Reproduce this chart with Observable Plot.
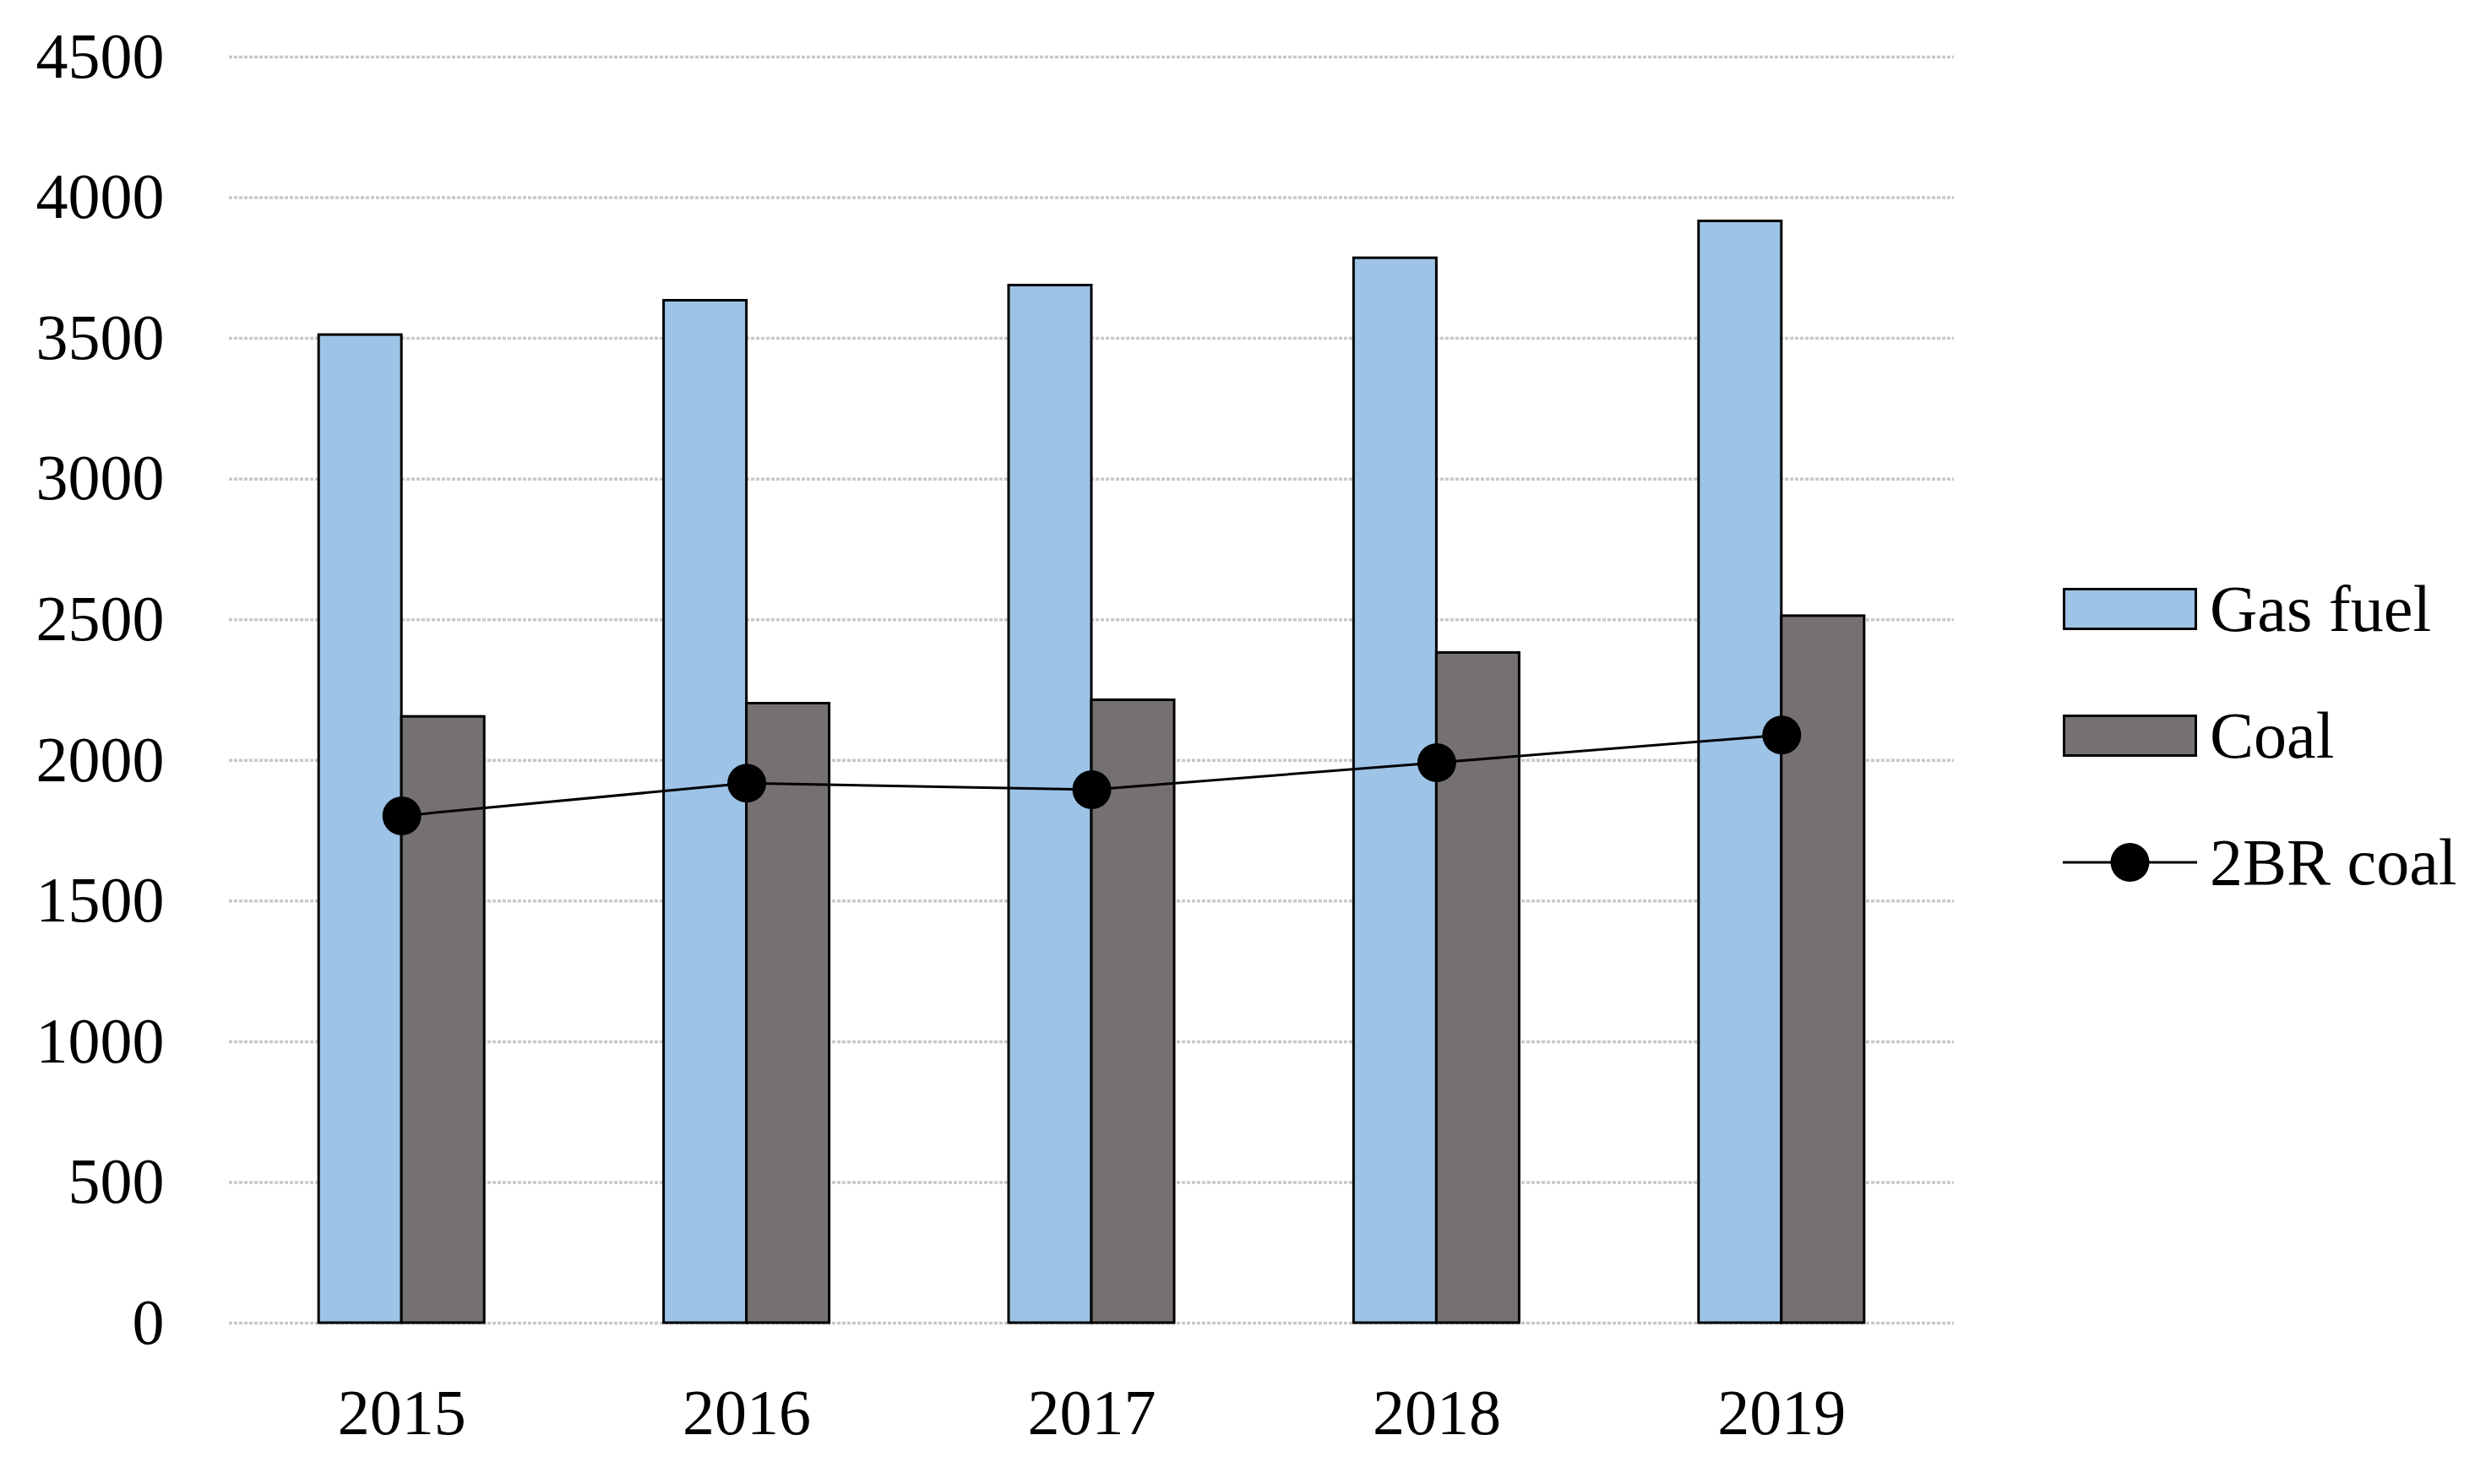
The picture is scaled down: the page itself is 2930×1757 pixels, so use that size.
<!DOCTYPE html>
<html><head><meta charset="utf-8">
<script src="https://cdn.jsdelivr.net/npm/d3@7"></script>
<script src="https://cdn.jsdelivr.net/npm/@observablehq/plot@0.6"></script>
<style>
body{margin:0;background:#fff;}
#wrap{position:relative;width:2930px;height:1757px;font-family:"Liberation Serif",serif;color:#000;}
#chart{position:absolute;left:0;top:0;}
#legend{position:absolute;left:2442px;top:681px;}
.row{display:flex;align-items:center;height:80px;margin-bottom:70px;font-size:78px;white-space:nowrap;}
.sw{width:159px;height:50px;box-sizing:border-box;border:3px solid #000;margin-right:15px;flex:none;}
.row svg{margin-right:15px;flex:none;}
</style></head><body>
<div id="wrap"><div id="chart"></div><div id="legend"></div></div>
<script>
const years = [2015, 2016, 2017, 2018, 2019];
const gasFuel = [3512, 3634, 3688, 3785, 3916];
const coal = [2155, 2202, 2214, 2382, 2513];
const coal2BR = [1803, 1919, 1896, 1992, 2090];
const yTicks = [0, 500, 1000, 1500, 2000, 2500, 3000, 3500, 4000, 4500];
const seriesNames = ["Gas fuel", "Coal", "2BR coal"];
const seriesColors = ["#9DC3E6", "#767171", "#000000"];

const rows = years.map((y, i) => ({year: y, gas: gasFuel[i], coal: coal[i], br: coal2BR[i]}));
const half = 0.24;

const chart = Plot.plot({
  width: 2400, height: 1757,
  marginLeft: 271, marginRight: 87, marginTop: 67, marginBottom: 191,
  style: {fontFamily: "'Liberation Serif', serif", fontSize: "76px", color: "#000", background: "#fff"},
  x: {domain: [2014.5, 2019.5], ticks: years, tickFormat: d => String(d), tickSize: 0, tickPadding: 78, label: null},
  y: {domain: [0, 4500], ticks: yTicks, tickFormat: d => String(d), tickSize: 0, tickPadding: 77, label: null},
  marks: [
    Plot.ruleY(yTicks, {stroke: "#c8c8c8", strokeWidth: 3.5, strokeDasharray: "4 2"}),
    Plot.rectY(rows, {x1: d => d.year - half, x2: d => d.year, y: "gas", fill: seriesColors[0], stroke: "#000", strokeWidth: 3}),
    Plot.rectY(rows, {x1: d => d.year, x2: d => d.year + half, y: "coal", fill: seriesColors[1], stroke: "#000", strokeWidth: 3}),
    Plot.line(rows, {x: "year", y: "br", stroke: seriesColors[2], strokeWidth: 3}),
    Plot.dot(rows, {x: "year", y: "br", r: 23, fill: seriesColors[2]})
  ]
});
document.getElementById("chart").appendChild(chart);

const legend = document.getElementById("legend");
seriesNames.forEach((name, i) => {
  const row = document.createElement("div");
  row.className = "row";
  if (i < 2) {
    const sw = document.createElement("div");
    sw.className = "sw";
    sw.style.background = seriesColors[i];
    row.appendChild(sw);
  } else {
    const svg = d3.create("svg").attr("width", 159).attr("height", 50);
    svg.append("line").attr("x1", 0).attr("x2", 159).attr("y1", 25).attr("y2", 25).attr("stroke", seriesColors[i]).attr("stroke-width", 3);
    svg.append("circle").attr("cx", 79.5).attr("cy", 25).attr("r", 23).attr("fill", seriesColors[i]);
    row.appendChild(svg.node());
  }
  const t = document.createElement("span");
  t.textContent = name;
  row.appendChild(t);
  legend.appendChild(row);
});
</script>
</body></html>
